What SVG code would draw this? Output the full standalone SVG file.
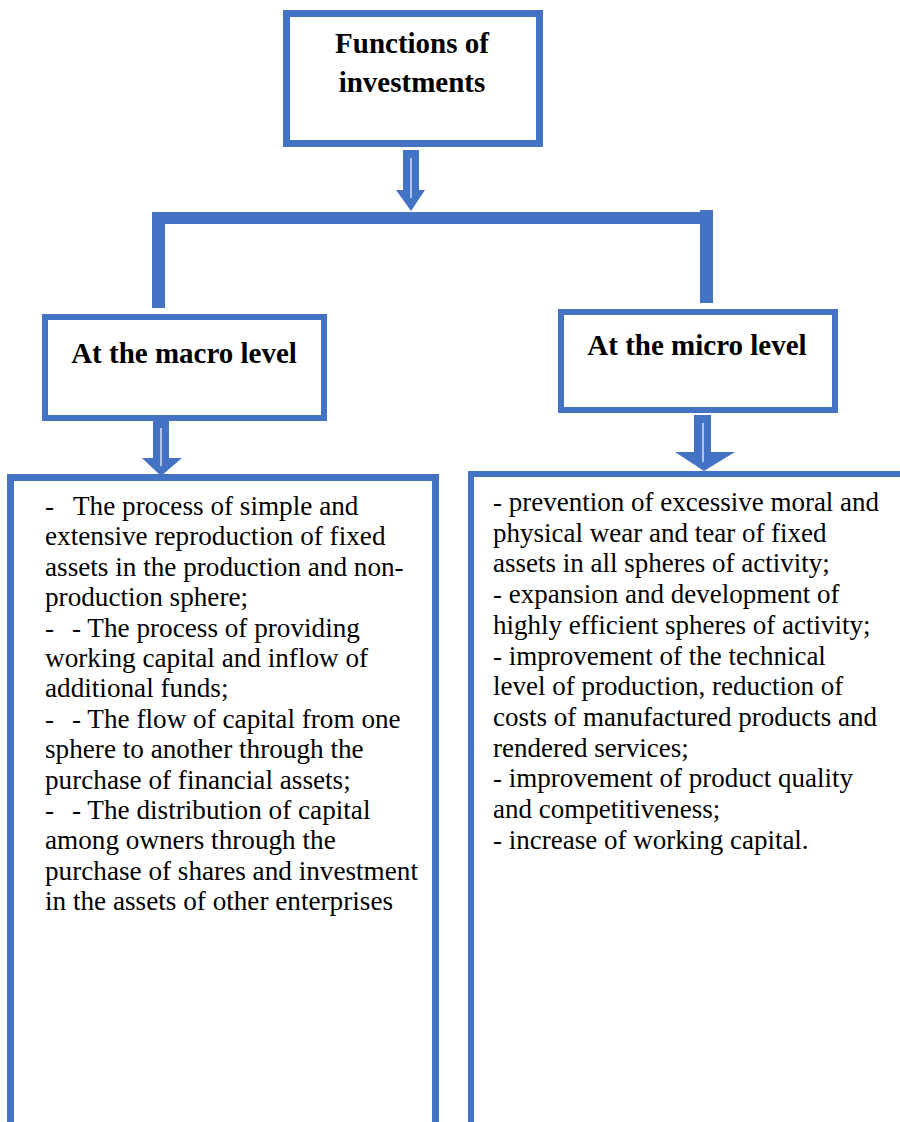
<svg xmlns="http://www.w3.org/2000/svg" width="900" height="1122" viewBox="0 0 900 1122">
<style>
.box{fill:#fff;stroke:#4472C4}
.title{font-family:"Liberation Serif","Times New Roman",serif;font-weight:bold;font-size:29px;fill:#000;text-anchor:middle}
.body{font-family:"Liberation Serif","Times New Roman",serif;font-size:27px;fill:#000}
.left{font-size:27.2px}
.conn{fill:#4472C4}
.hl{stroke:#fff;stroke-width:1.2}
</style>
<rect width="900" height="1122" fill="#fff"/>
<g id="connectors">
  <rect class="conn" x="152" y="212" width="560" height="12"/>
  <rect class="conn" x="152" y="214" width="13" height="94"/>
  <rect class="conn" x="700" y="210" width="13" height="93"/>
  <g id="arrow-top">
    <polygon class="conn" points="403,150 419,150 419,190 425,190 411,211 396,190 403,190"/>
    <line class="hl" x1="411" y1="158" x2="411" y2="198"/>
  </g>
  <g id="arrow-macro">
    <polygon class="conn" points="153,420 169,420 169,458 182,458 161,476 142,458 153,458"/>
    <line class="hl" x1="161" y1="428" x2="161" y2="466"/>
  </g>
  <g id="arrow-micro">
    <polygon class="conn" points="694,415 711,415 711,452 735,452 704,471 675,452 694,452"/>
    <line class="hl" x1="703" y1="423" x2="703" y2="462"/>
  </g>
</g>
<g id="node-functions">
  <rect class="box" x="286.5" y="13.5" width="253" height="130" stroke-width="7"/>
  <text class="title" x="412" y="53">Functions of</text>
  <text class="title" x="412" y="92">investments</text>
</g>
<g id="node-macro">
  <rect class="box" x="45" y="317" width="279" height="101" stroke-width="6"/>
  <text class="title" x="184" y="363">At the macro level</text>
</g>
<g id="node-micro">
  <rect class="box" x="561" y="312" width="274" height="98" stroke-width="6"/>
  <text class="title" x="697" y="355">At the micro level</text>
</g>
<g id="node-macro-list">
  <rect class="box" x="10.5" y="477.5" width="425" height="720" stroke-width="7"/>
  <text class="body left">
    <tspan x="45" y="515">-</tspan><tspan x="73" y="515">The process of simple and</tspan>
    <tspan x="45" y="545.4">extensive reproduction of fixed</tspan>
    <tspan x="45" y="575.8">assets in the production and non-</tspan>
    <tspan x="45" y="606.2">production sphere;</tspan>
    <tspan x="45" y="636.6">-</tspan><tspan x="72" y="636.6">- The process of providing</tspan>
    <tspan x="45" y="667">working capital and inflow of</tspan>
    <tspan x="45" y="697.4">additional funds;</tspan>
    <tspan x="45" y="727.8">-</tspan><tspan x="72" y="727.8">- The flow of capital from one</tspan>
    <tspan x="45" y="758.2">sphere to another through the</tspan>
    <tspan x="45" y="788.6">purchase of financial assets;</tspan>
    <tspan x="45" y="819">-</tspan><tspan x="72" y="819">- The distribution of capital</tspan>
    <tspan x="45" y="849.4">among owners through the</tspan>
    <tspan x="45" y="879.8">purchase of shares and investment</tspan>
    <tspan x="45" y="910.2">in the assets of other enterprises</tspan>
  </text>
</g>
<g id="node-micro-list">
  <rect class="box" x="471" y="474" width="520" height="720" stroke-width="6"/>
  <text class="body">
    <tspan x="493" y="511">- prevention of excessive moral and</tspan>
    <tspan x="493" y="541.7">physical wear and tear of fixed</tspan>
    <tspan x="493" y="572.4">assets in all spheres of activity;</tspan>
    <tspan x="493" y="603.1">- expansion and development of</tspan>
    <tspan x="493" y="633.8">highly efficient spheres of activity;</tspan>
    <tspan x="493" y="664.5">- improvement of the technical</tspan>
    <tspan x="493" y="695.2">level of production, reduction of</tspan>
    <tspan x="493" y="725.9">costs of manufactured products and</tspan>
    <tspan x="493" y="756.6">rendered services;</tspan>
    <tspan x="493" y="787.3">- improvement of product quality</tspan>
    <tspan x="493" y="818">and competitiveness;</tspan>
    <tspan x="493" y="848.7">- increase of working capital.</tspan>
  </text>
</g>
</svg>
